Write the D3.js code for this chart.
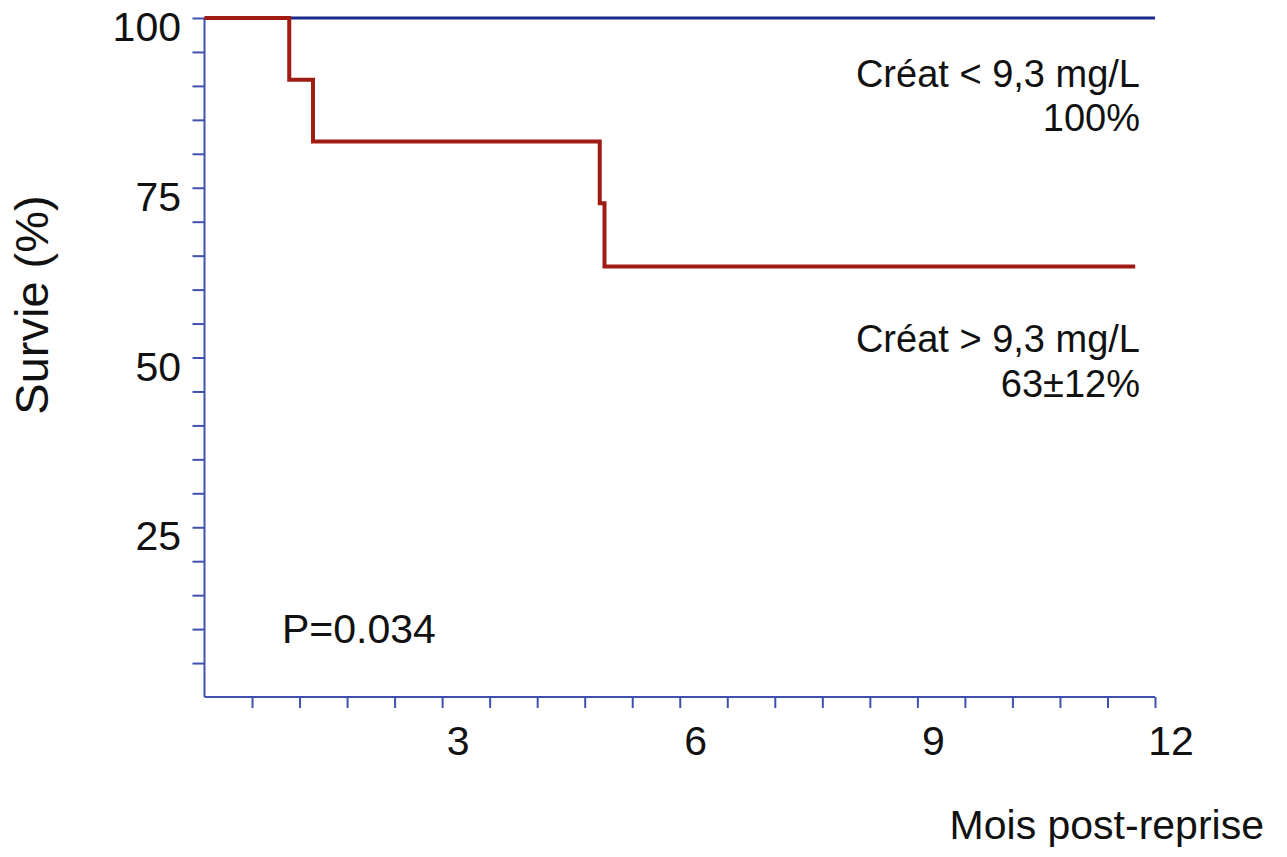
<!DOCTYPE html>
<html>
<head>
<meta charset="utf-8">
<script src="https://cdn.jsdelivr.net/npm/d3@7"></script>
<style>
  body { margin: 0; background: #fff; }
  text { font-family: "Liberation Sans", Arial, sans-serif; fill: #111; }
</style>
</head>
<body>
<div id="chart"></div>
<script>
// Kaplan-Meier steps (months, survival %)
var lowTimes = [0, 12];
var lowSurv = [100, 100];
var highTimes = [0, 1.07, 1.37, 4.99, 5.05, 11.75];
var highSurv = [100, 90.9, 81.8, 72.7, 63.4, 63.4];

var yTickValues = d3.range(5, 101, 5);
var yLabelValues = [25, 50, 75, 100];
var xTickValues = d3.range(1, 21).map(d => +(d * 0.6).toFixed(1));
var xLabelValues = [3, 6, 9, 12];

var width = 1287, height = 857;

var svg = d3.select("#chart")
  .append("svg")
    .attr("width", width)
    .attr("height", height);

var x = d3.scaleLinear().domain([0, 12]).range([204.5, 1155]);
var y = d3.scaleLinear().domain([0, 100]).range([697, 18]);

var axisColor = "#3f51b0";

// y axis
var yAxis = svg.append("g")
  .attr("transform", "translate(" + x(0) + ",0)")
  .call(d3.axisLeft(y).tickValues(yTickValues).tickSize(12).tickFormat(""));
yAxis.select(".domain").attr("d", "M0," + y(100) + "V" + y(0)).attr("stroke", axisColor).attr("stroke-width", 2);
yAxis.selectAll(".tick line").attr("stroke", axisColor).attr("stroke-width", 2);

svg.selectAll(".ylab")
  .data(yLabelValues)
  .enter()
  .append("text")
    .attr("x", 181)
    .attr("y", d => y(d) + 23)
    .attr("text-anchor", "end")
    .attr("font-size", "41px")
    .text(d => d);

// x axis
var xAxis = svg.append("g")
  .attr("transform", "translate(0," + y(0) + ")")
  .call(d3.axisBottom(x).tickValues(xTickValues).tickSize(11).tickFormat(""));
xAxis.select(".domain").attr("d", "M" + x(0) + ",0H" + x(12)).attr("stroke", axisColor).attr("stroke-width", 2);
xAxis.selectAll(".tick line").attr("stroke", axisColor).attr("stroke-width", 2);

svg.selectAll(".xlab")
  .data(xLabelValues)
  .enter()
  .append("text")
    .attr("x", d => x(d) + 16)
    .attr("y", 755)
    .attr("text-anchor", "middle")
    .attr("font-size", "41px")
    .text(d => d);

// axis titles
svg.append("text")
  .attr("transform", "translate(48,305) rotate(-90)")
  .attr("text-anchor", "middle")
  .attr("font-size", "47px")
  .text("Survie (%)");

svg.append("text")
  .attr("x", 1264)
  .attr("y", 839)
  .attr("text-anchor", "end")
  .attr("font-size", "41px")
  .text("Mois post-reprise");

// curves
var line = d3.line()
  .x(d => x(d[0]))
  .y(d => y(d[1]))
  .curve(d3.curveStepAfter);

svg.append("path")
  .datum(lowTimes.map((t, i) => [t, lowSurv[i]]))
  .attr("d", line)
  .attr("fill", "none")
  .attr("stroke", "#1b2a8c")
  .attr("stroke-width", 3);

svg.append("path")
  .datum(highTimes.map((t, i) => [t, highSurv[i]]))
  .attr("d", line)
  .attr("fill", "none")
  .attr("stroke", "#a01b12")
  .attr("stroke-width", 4);

// annotations
var notes = [
  {text: "Créat < 9,3 mg/L", y: 87},
  {text: "100%", y: 131},
  {text: "Créat > 9,3 mg/L", y: 352},
  {text: "63±12%", y: 397}
];
svg.selectAll(".note")
  .data(notes)
  .enter()
  .append("text")
    .attr("x", 1140)
    .attr("y", d => d.y)
    .attr("text-anchor", "end")
    .attr("font-size", "38px")
    .text(d => d.text);

svg.append("text")
  .attr("x", 282)
  .attr("y", 643)
  .attr("font-size", "41px")
  .text("P=0.034");
</script>
</body>
</html>
